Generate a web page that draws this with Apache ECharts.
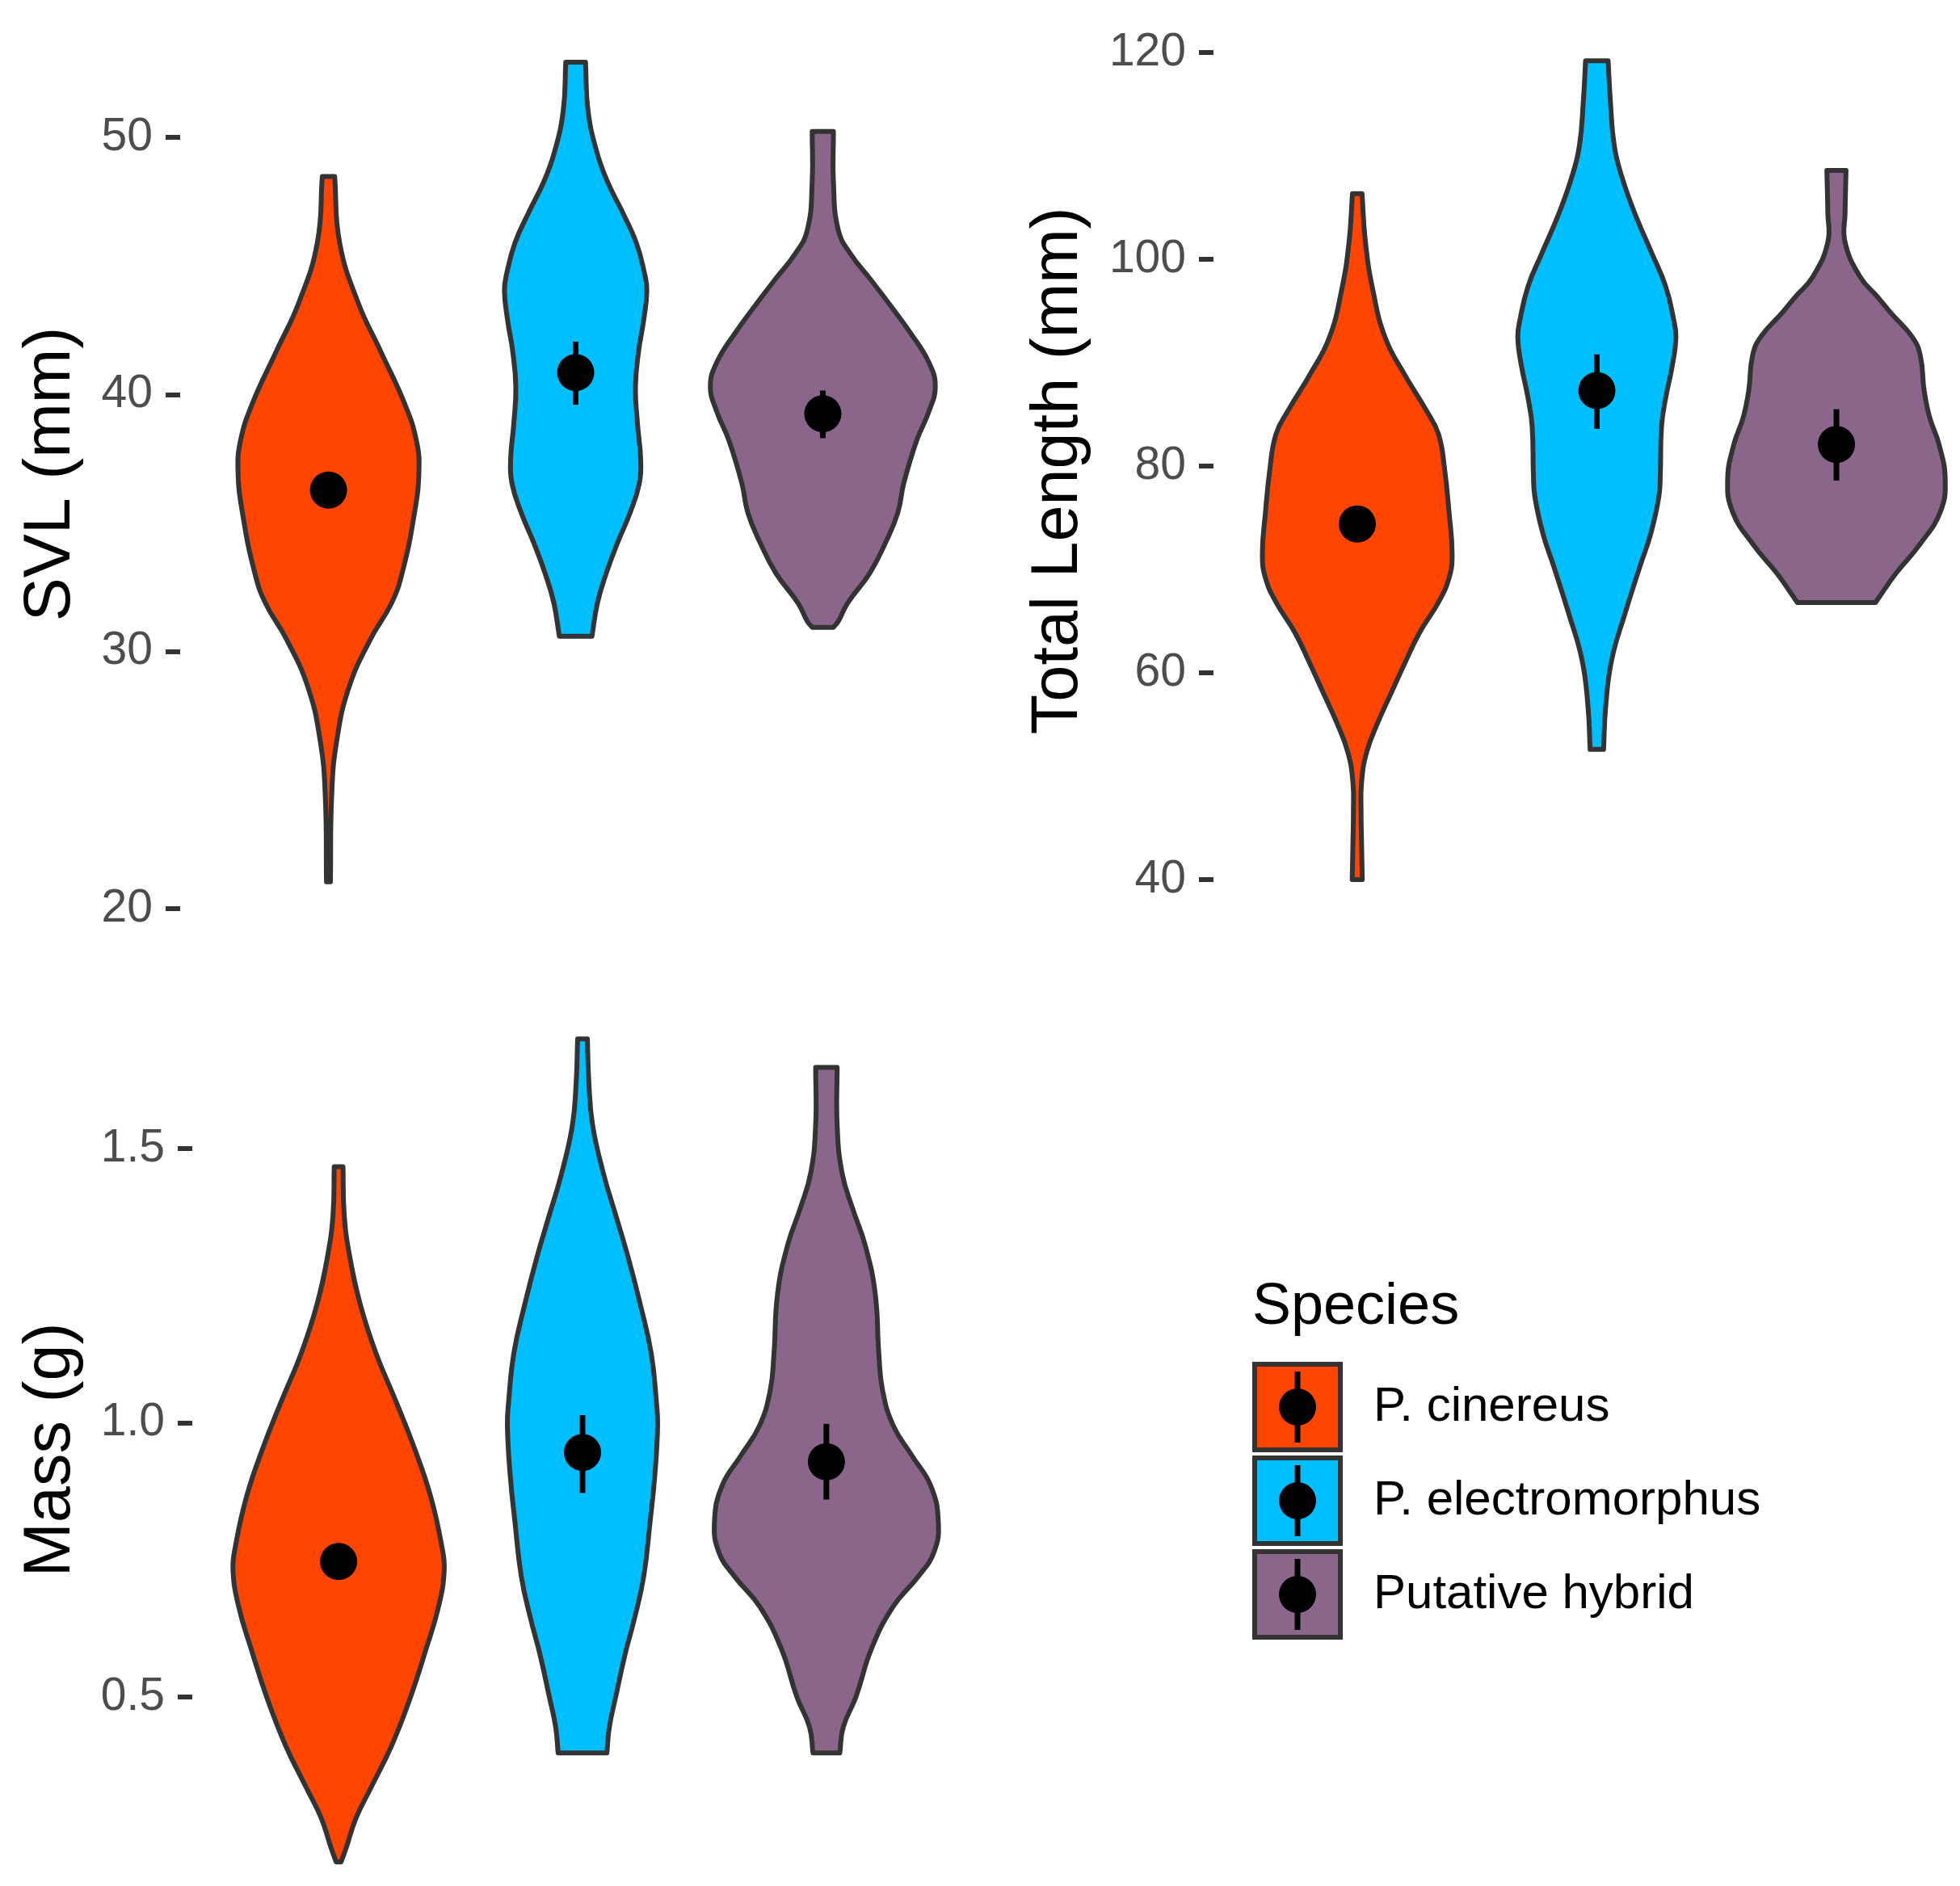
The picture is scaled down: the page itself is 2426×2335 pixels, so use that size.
<!DOCTYPE html>
<html><head><meta charset="utf-8">
<script src="https://cdn.jsdelivr.net/npm/echarts@6/dist/echarts.min.js"></script>
<style>html,body{margin:0;padding:0;background:#fff}#c{width:2426px;height:2335px}</style>
</head><body><div id="c"></div>
<script>
const FONT = 'Liberation Sans, Arial, Helvetica, sans-serif';
const species = ['P. cinereus', 'P. electromorphus', 'Putative hybrid'];
const colors = ['#FF4500', '#00BFFF', '#8B668B'];

// violin profiles: [value, half-width in category units]
const svlCinereus = [[48.48,0.025],[45.91,0.045],[43.57,0.12],[41.70,0.21],[39.60,0.31],[38.19,0.356],[37.02,0.366],[35.39,0.348],[33.05,0.298],[31.88,0.255],[30.48,0.17],[28.61,0.083],[26.50,0.033],[24.40,0.013],[21.04,0.008]];
const svlElectro = [[52.92,0.04],[51.05,0.05],[49.42,0.086],[48.25,0.13],[47.08,0.19],[45.91,0.245],[44.74,0.278],[44.04,0.288],[42.87,0.275],[41.70,0.255],[40.30,0.242],[38.89,0.25],[37.49,0.263],[36.56,0.258],[35.39,0.22],[34.22,0.169],[33.05,0.124],[31.88,0.088],[30.59,0.066]];
const svlHybrid = [[50.23,0.043],[48.25,0.043],[46.38,0.063],[45.44,0.114],[44.51,0.19],[43.57,0.265],[42.40,0.354],[41.23,0.43],[40.30,0.455],[39.36,0.43],[38.19,0.379],[36.56,0.328],[35.39,0.303],[34.22,0.253],[33.05,0.19],[31.88,0.10],[31.18,0.063],[30.94,0.043]];

const tlCinereus = [[106.35,0.02],[101.70,0.034],[97.05,0.065],[92.40,0.117],[88.91,0.196],[85.43,0.287],[83.10,0.339],[79.62,0.365],[75.55,0.383],[71.48,0.396],[69.16,0.383],[66.83,0.339],[63.93,0.261],[61.02,0.2],[58.12,0.143],[55.21,0.086],[52.31,0.039],[49.40,0.018],[46.50,0.016],[43.59,0.018],[40.0,0.021]];
const tlElectro = [[119.2,0.047],[115.46,0.056],[110.94,0.073],[107.78,0.107],[104.17,0.163],[100.56,0.23],[97.4,0.287],[94.24,0.32],[92.44,0.33],[89.73,0.315],[86.56,0.287],[83.85,0.27],[79.34,0.265],[77.08,0.259],[73.46,0.225],[70.3,0.18],[65.78,0.118],[61.27,0.062],[56.75,0.037],[52.6,0.028]];
const tlHybrid = [[108.6,0.04],[104.5,0.036],[101.64,0.036],[98.26,0.10],[96.43,0.169],[94.87,0.225],[92.53,0.315],[90.70,0.35],[87.32,0.366],[84.71,0.389],[82.11,0.428],[78.73,0.454],[75.60,0.434],[72.48,0.35],[69.61,0.248],[66.8,0.163]];

const massCinereus = [[1.467,0.018],[1.379,0.023],[1.302,0.046],[1.214,0.09],[1.126,0.154],[1.038,0.236],[0.951,0.313],[0.863,0.379],[0.775,0.423],[0.731,0.433],[0.665,0.41],[0.588,0.359],[0.5,0.295],[0.412,0.218],[0.335,0.133],[0.280,0.072],[0.225,0.031],[0.199,0.01]];
const massElectro = [[1.70,0.02],[1.621,0.026],[1.544,0.041],[1.456,0.085],[1.379,0.136],[1.302,0.187],[1.214,0.238],[1.126,0.282],[1.038,0.303],[0.995,0.308],[0.907,0.297],[0.819,0.277],[0.720,0.251],[0.643,0.213],[0.577,0.174],[0.5,0.136],[0.445,0.11],[0.398,0.1]];
const massHybrid = [[1.648,0.044],[1.544,0.044],[1.456,0.064],[1.390,0.108],[1.324,0.159],[1.236,0.2],[1.126,0.215],[1.06,0.23],[0.995,0.274],[0.940,0.351],[0.885,0.428],[0.819,0.459],[0.764,0.441],[0.720,0.377],[0.665,0.274],[0.588,0.185],[0.5,0.121],[0.445,0.069],[0.398,0.055]];

// summary points (mean) with interval
const svlMean = [36.28, 40.85, 39.25];
const svlLow  = [35.8, 39.6, 38.3];
const svlHigh = [36.8, 42.05, 40.15];
const tlMean = [74.4, 87.3, 82.1];
const tlLow  = [73.3, 83.6, 78.6];
const tlHigh = [75.5, 90.8, 85.5];
const massMean = [0.747, 0.946, 0.929];
const massLow  = [0.725, 0.872, 0.860];
const massHigh = [0.770, 1.014, 0.998];

const svlTicks = [20, 30, 40, 50];
const tlTicks = [40, 60, 80, 100, 120];
const massTicks = [0.5, 1.0, 1.5];

const panels = [
  {grid:{left:223, top:30, width:979, height:1114}, yMin:19.4, yMax:54.4, xMax:3.6, ticks:svlTicks, dec:0, name:'SVL (mm)', gap:119,
   profiles:[svlCinereus, svlElectro, svlHybrid], mean:svlMean, low:svlLow, high:svlHigh},
  {grid:{left:1502, top:22.8, width:949, height:1120}, yMin:35.8, yMax:123.3, xMax:3.6, ticks:tlTicks, dec:0, name:'Total Length (mm)', gap:151,
   profiles:[tlCinereus, tlElectro, tlHybrid], mean:tlMean, low:tlLow, high:tlHigh},
  {grid:{left:238, top:1234.6, width:966, height:1121}, yMin:0.125, yMax:1.776, xMax:3.6, ticks:massTicks, dec:1, name:'Mass (g)', gap:134,
   profiles:[massCinereus, massElectro, massHybrid], mean:massMean, low:massLow, high:massHigh}
];

const OUTLINE = 6;
const grids = [], xAxes = [], yAxes = [], series = [];
panels.forEach((p, gi) => {
  grids.push(Object.assign({outerBoundsMode:'none', containLabel:false}, p.grid));
  xAxes.push({type:'value', gridIndex:gi, min:0.4, max:p.xMax, show:false});
  yAxes.push({
    type:'value', gridIndex:gi, min:p.yMin, max:p.yMax,
    name:p.name, nameLocation:'middle', nameGap:p.gap, nameRotate:90,
    nameTextStyle:{fontSize:81, color:'#000', fontFamily:FONT},
    axisLine:{show:false},
    axisTick:{show:true, length:18, lineStyle:{width:6, color:'#333'}, customValues:p.ticks},
    axisLabel:{show:true, fontSize:57, color:'#4D4D4D', margin:34, fontFamily:FONT, customValues:p.ticks,
               formatter:(v)=>Number(v).toFixed(p.dec)},
    splitLine:{show:false}
  });
  p.profiles.forEach((prof, k) => {
    series.push({
      type:'custom', name:species[k], coordinateSystem:'cartesian2d',
      xAxisIndex:gi, yAxisIndex:gi, clip:false,
      itemStyle:{color:colors[k], borderColor:'#333', borderWidth:OUTLINE},
      data:[[k + 1, p.mean[k], p.low[k], p.high[k]]],
      encode:{x:0, y:[1,2,3]},
      renderItem:function(params, api){
        const x = api.value(0);
        const left = prof.map(d => api.coord([x - d[1], d[0]]));
        const right = prof.slice().reverse().map(d => api.coord([x + d[1], d[0]]));
        // repeat each flat-cap corner so the smoothed outline keeps sharp cap corners
        const pts = [left[0]].concat(left, [left[left.length-1]], [right[0]], right, [right[right.length-1]]);
        const c = api.coord([x, api.value(1)]);
        const lo = api.coord([x, api.value(2)]);
        const hi = api.coord([x, api.value(3)]);
        return {type:'group', children:[
          {type:'polygon', shape:{points:pts, smooth:0.45},
           style:{fill:colors[k], stroke:'#333333', lineWidth:OUTLINE, lineJoin:'round'}},
          {type:'line', shape:{x1:c[0], y1:lo[1], x2:c[0], y2:hi[1]}, style:{stroke:'#000', lineWidth:7}},
          {type:'circle', shape:{cx:c[0], cy:c[1], r:23}, style:{fill:'#000'}}
        ]};
      }
    });
  });
});

// legend key layout (outer box = size + border, pitch = outer + gap)
const LG = {left:1550, top:1686, size:106, border:6, gap:4};
const pitch = LG.size + LG.border + LG.gap;
const keyDecor = species.map((s, k) => {
  const cy = LG.top + k * pitch + (LG.size + LG.border) / 2;
  const cx = LG.left + (LG.size + LG.border) / 2;
  return {type:'group', z:100, children:[
    {type:'line', z:100, shape:{x1:cx, y1:cy - 44, x2:cx, y2:cy + 44}, style:{stroke:'#000', lineWidth:7}},
    {type:'circle', z:101, shape:{cx:cx, cy:cy, r:23}, style:{fill:'#000'}}
  ]};
});

const chart = echarts.init(document.getElementById('c'), null, {renderer:'canvas'});
chart.setOption({
  animation:false,
  backgroundColor:'#ffffff',
  textStyle:{fontFamily:FONT},
  title:{text:'Species', left:1550, top:1583, padding:0,
         textStyle:{fontSize:72, fontWeight:'normal', color:'#000', fontFamily:FONT}},
  legend:{orient:'vertical', left:LG.left, top:LG.top, itemWidth:LG.size, itemHeight:LG.size, itemGap:LG.gap,
          padding:0, icon:'rect',
          textStyle:{fontSize:60, color:'#000', fontFamily:FONT, padding:[0,0,0,36]},
          data:species.map((s,k)=>({name:s, icon:'rect', itemStyle:{color:colors[k], borderColor:'#333', borderWidth:LG.border}}))},
  grid:grids, xAxis:xAxes, yAxis:yAxes, series:series,
  graphic:keyDecor
});
</script></body></html>
